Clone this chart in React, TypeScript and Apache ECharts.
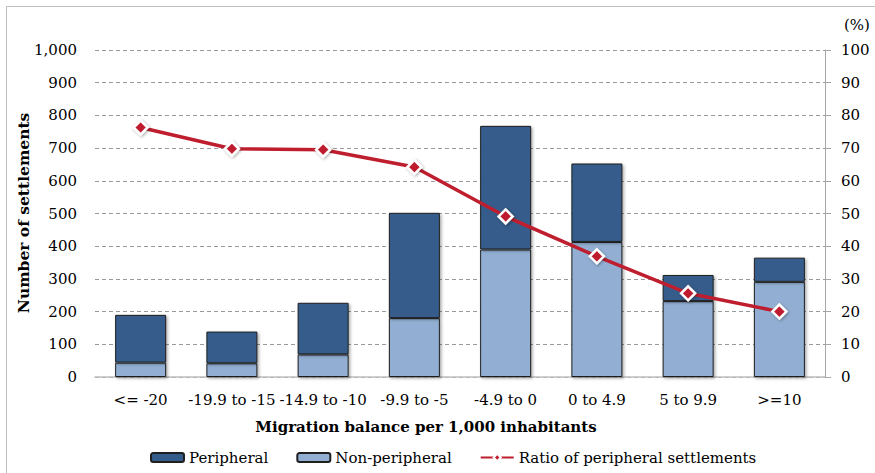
import React, { useEffect, useRef } from "react";
import * as echarts from "echarts";

const categories = ["<= -20", "-19.9 to -15", "-14.9 to -10", "-9.9 to -5", "-4.9 to 0", "0 to 4.9", "5 to 9.9", ">=10"];
const peripheral = [146, 97, 158, 322, 378, 240, 80, 74];
const nonPeripheral = [44, 42, 69, 180, 390, 413, 232, 291];
const ratio = [76.3, 69.8, 69.5, 64.2, 49.1, 36.9, 25.6, 20.0];
const leftTicks = { min: 0, max: 1000, interval: 100 };
const rightTicks = { min: 0, max: 100, interval: 10 };

const FONT = "DejaVu Serif";

export default function App() {
  const ref = useRef<HTMLDivElement>(null);
  useEffect(() => {
    document.body.style.margin = "0";
    const chart = echarts.init(ref.current!, null, { renderer: "svg" });
    const barStyle = (color: string) => ({
      color,
      borderColor: "#1f1f1f",
      borderWidth: 1,
      shadowColor: "rgba(0,0,0,0.35)",
      shadowBlur: 3,
      shadowOffsetX: 1.5,
      shadowOffsetY: 1.5,
    });
    chart.setOption({
      animation: false,
      backgroundColor: "#ffffff",
      textStyle: { fontFamily: FONT },
      grid: { left: 95, right: 50, top: 50, bottom: 96 },
      legend: {
        left: 145,
        top: 445,
        itemWidth: 33,
        itemHeight: 9,
        itemGap: 28,
        data: ["Peripheral", "Non-peripheral", "Ratio of peripheral settlements"],
        textStyle: { fontFamily: FONT, fontSize: 15, color: "#000" },
      },
      xAxis: {
        type: "category",
        data: categories,
        axisLine: { lineStyle: { color: "#bfbfbf", width: 1.5 } },
        axisTick: { show: false },
        axisLabel: { margin: 15, fontFamily: FONT, fontSize: 15, color: "#000", interval: 0 },
      },
      yAxis: [
        {
          type: "value",
          ...leftTicks,
          axisLine: { show: false },
          axisTick: { show: false },
          axisLabel: {
            margin: 18,
            fontFamily: FONT,
            fontSize: 15,
            color: "#000",
            formatter: (v: number) => v.toLocaleString("en-US"),
          },
          splitLine: { lineStyle: { color: "#9a9a9a", type: [4, 3], width: 1 } },
        },
        {
          type: "value",
          position: "right",
          ...rightTicks,
          axisLine: { show: true, lineStyle: { color: "#a6a6a6", width: 1 } },
          axisTick: { show: true, length: 6, lineStyle: { color: "#a6a6a6" } },
          axisLabel: { margin: 16, fontFamily: FONT, fontSize: 15, color: "#000" },
          splitLine: { show: false },
        },
      ],
      series: [
        {
          name: "Non-peripheral",
          type: "bar",
          stack: "s",
          barWidth: 51,
          data: nonPeripheral,
          itemStyle: barStyle("#92afd3"),
        },
        {
          name: "Peripheral",
          type: "bar",
          stack: "s",
          barWidth: 51,
          data: peripheral,
          itemStyle: barStyle("#345c8a"),
        },
        {
          name: "Ratio of peripheral settlements",
          type: "line",
          yAxisIndex: 1,
          data: ratio,
          symbol: "diamond",
          symbolSize: 14,
          lineStyle: { color: "#be1e2d", width: 3.5 },
          itemStyle: {
            color: "#be1e2d",
            borderColor: "#ffffff",
            borderWidth: 2.5,
            shadowColor: "rgba(0,0,0,0.35)",
            shadowBlur: 3,
            shadowOffsetX: 1,
            shadowOffsetY: 1,
          },
          z: 5,
        },
      ],
      graphic: [
        {
          type: "rect",
          shape: { x: 6.5, y: 6.5, width: 900, height: 500 },
          style: { fill: "none", stroke: "#bfbfbf", lineWidth: 1 },
          silent: true,
        },
        {
          type: "text",
          x: 857,
          y: 25,
          style: { text: "(%)", fontFamily: FONT, fontSize: 15, fill: "#000", textAlign: "center", textVerticalAlign: "middle" },
        },
        {
          type: "text",
          x: 23,
          y: 213,
          rotation: Math.PI / 2,
          style: {
            text: "Number of settlements",
            fontFamily: FONT,
            fontSize: 15.5,
            fontWeight: "bold",
            fill: "#000",
            textAlign: "center",
            textVerticalAlign: "middle",
          },
        },
        {
          type: "text",
          x: 426,
          y: 427,
          style: {
            text: "Migration balance per 1,000 inhabitants",
            fontFamily: FONT,
            fontSize: 15,
            fontWeight: "bold",
            fill: "#000",
            textAlign: "center",
            textVerticalAlign: "middle",
          },
        },
      ],
    });
    return () => chart.dispose();
  }, []);
  return <div ref={ref} style={{ width: 875, height: 473 }} />;
}
